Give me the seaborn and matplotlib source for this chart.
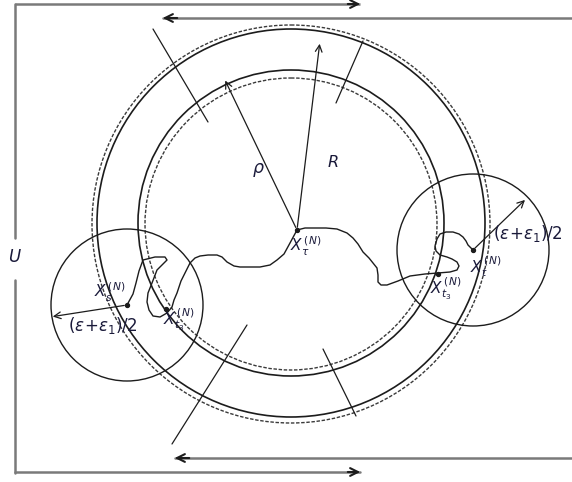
import numpy as np
import pandas as pd
import seaborn as sns
import matplotlib
matplotlib.use("Agg")
import matplotlib.pyplot as plt
from matplotlib.patches import Circle

# diagram geometry (pixel coords, y grows downward)
ring_center = (291, 223)
ring_radii_solid = [153, 194]
ring_radii_dashed = [146, 199]

ball_s = (127, 305)
ball_t = (473, 250)
ball_radius = 76

x_tau = (297, 230)
x_t3_left = (166, 309)
x_t3_right = (438, 274)

# path of the process X^(N), from X_s through X_tau to X_t
path_x = [127, 133, 136, 139, 143, 155, 165, 167, 162, 157, 152, 148, 147, 149, 153, 160, 167,
          172, 174, 177, 181, 186, 190, 195, 200, 208, 217, 222, 227, 234, 240, 250, 260,
          270, 277, 284, 290, 297, 305, 315, 326, 337, 347, 353, 358, 363, 369, 373, 377,
          378, 378, 381, 387, 398, 410, 425, 438, 450, 457, 459, 457, 452, 447, 440, 436,
          435, 437, 440, 446, 453, 459, 463, 466, 468, 471, 473]
path_y = [305, 294, 283, 271, 260, 257, 257, 260, 265, 270, 283, 293, 302, 310, 316, 317, 313,
          307, 300, 293, 281, 271, 263, 258, 256, 255, 255, 257, 262, 266, 267, 267, 267,
          265, 260, 254, 243, 230, 228, 228, 228, 229, 233, 238, 244, 252, 258, 263, 268,
          275, 282, 285, 285, 281, 276, 274, 273, 272, 270, 266, 262, 259, 257, 255, 251,
          246, 239, 234, 232, 232, 234, 237, 241, 245, 248, 250]

# short strokes crossing the annulus
cross_lines = [((153, 29), (208, 122)), ((363, 41), (336, 103)),
               ((172, 444), (247, 325)), ((323, 349), (356, 416))]

sns.set_theme(style="white")
plt.rcParams['font.family'] = ['DejaVu Sans']
plt.rcParams['mathtext.fontset'] = 'dejavusans'

fig = plt.figure(figsize=(5.72, 4.82), dpi=100)
ax = fig.add_axes([0, 0, 1, 1])

frame_col = '#7a7a7a'
ink = '#1c1c1c'
txt = '#1a1a3a'

# path
df = pd.DataFrame({'x': path_x, 'y': path_y})
sns.lineplot(data=df, x='x', y='y', sort=False, color=ink, lw=1.0, ax=ax, estimator=None)
ax.set_xlim(0, 572)
ax.set_ylim(482, 0)
ax.axis('off')

# outer frame with U
ax.plot([15, 15], [4, 238], color=frame_col, lw=1.8)
ax.plot([15, 15], [280, 473], color=frame_col, lw=1.8)
ax.plot([15, 360], [4, 4], color=frame_col, lw=1.8, solid_capstyle='butt')
ax.annotate('', xy=(363, 4), xytext=(345, 4),
            arrowprops=dict(arrowstyle='->', color=ink, lw=1.5, mutation_scale=14))
ax.plot([163, 572], [18, 18], color=frame_col, lw=1.8)
ax.annotate('', xy=(160, 18), xytext=(180, 18),
            arrowprops=dict(arrowstyle='->', color=ink, lw=1.5, mutation_scale=14))
ax.plot([15, 360], [472, 472], color=frame_col, lw=1.8)
ax.annotate('', xy=(363, 472), xytext=(345, 472),
            arrowprops=dict(arrowstyle='->', color=ink, lw=1.5, mutation_scale=14))
ax.plot([175, 572], [458, 458], color=frame_col, lw=1.8)
ax.annotate('', xy=(172, 458), xytext=(192, 458),
            arrowprops=dict(arrowstyle='->', color=ink, lw=1.5, mutation_scale=14))
ax.text(14, 257, 'U', fontsize=12, style='italic', color=txt, ha='center', va='center')

# rings
for r in ring_radii_solid:
    ax.add_patch(Circle(ring_center, r, fill=False, ec=ink, lw=1.2))
for r in ring_radii_dashed:
    ax.add_patch(Circle((ring_center[0], ring_center[1] + 1), r, fill=False, ec='#3a3a3a',
                        lw=1.0, ls=(0, (2.5, 1.2))))

# small balls
for c in [ball_s, ball_t]:
    ax.add_patch(Circle(c, ball_radius, fill=False, ec=ink, lw=1.0))

for (p0, p1) in cross_lines:
    ax.plot([p0[0], p1[0]], [p0[1], p1[1]], color=ink, lw=0.9)

# radius arrows
arr = dict(arrowstyle='->', color=ink, lw=0.9, mutation_scale=12)
ax.annotate('', xy=(224, 78), xytext=x_tau, arrowprops=arr)
ax.annotate('', xy=(320, 41), xytext=x_tau, arrowprops=arr)
ax.annotate('', xy=(50, 317), xytext=ball_s, arrowprops=arr)
ax.annotate('', xy=(527, 198), xytext=ball_t, arrowprops=arr)

# points
pts = [x_tau, ball_s, ball_t, x_t3_left, x_t3_right]
ax.scatter([p[0] for p in pts], [p[1] for p in pts], s=8, color=ink, zorder=5)

# labels
fs = 11
ax.text(258, 170, r'$\rho$', fontsize=12.5, color=txt, ha='center', va='center')
ax.text(333, 162, r'$R$', fontsize=11.5, color=txt, ha='center', va='center')
ax.text(290, 246, r'$X_\tau^{\,(N)}$', fontsize=fs, color=txt, ha='left', va='center')
ax.text(94, 292, r'$X_s^{\,(N)}$', fontsize=fs, color=txt, ha='left', va='center')
ax.text(163, 320, r'$X_{t_3}^{\,(N)}$', fontsize=fs, color=txt, ha='left', va='center')
ax.text(430, 289, r'$X_{t_3}^{\,(N)}$', fontsize=fs, color=txt, ha='left', va='center')
ax.text(470, 267, r'$X_t^{\,(N)}$', fontsize=fs, color=txt, ha='left', va='center')
ax.text(68, 326, r'$(\epsilon\!+\!\epsilon_1)/2$', fontsize=12, color=txt, ha='left', va='center')
ax.text(493, 233, r'$(\epsilon\!+\!\epsilon_1)/2$', fontsize=12, color=txt, ha='left', va='center')

fig.savefig('out.png', dpi=100)
